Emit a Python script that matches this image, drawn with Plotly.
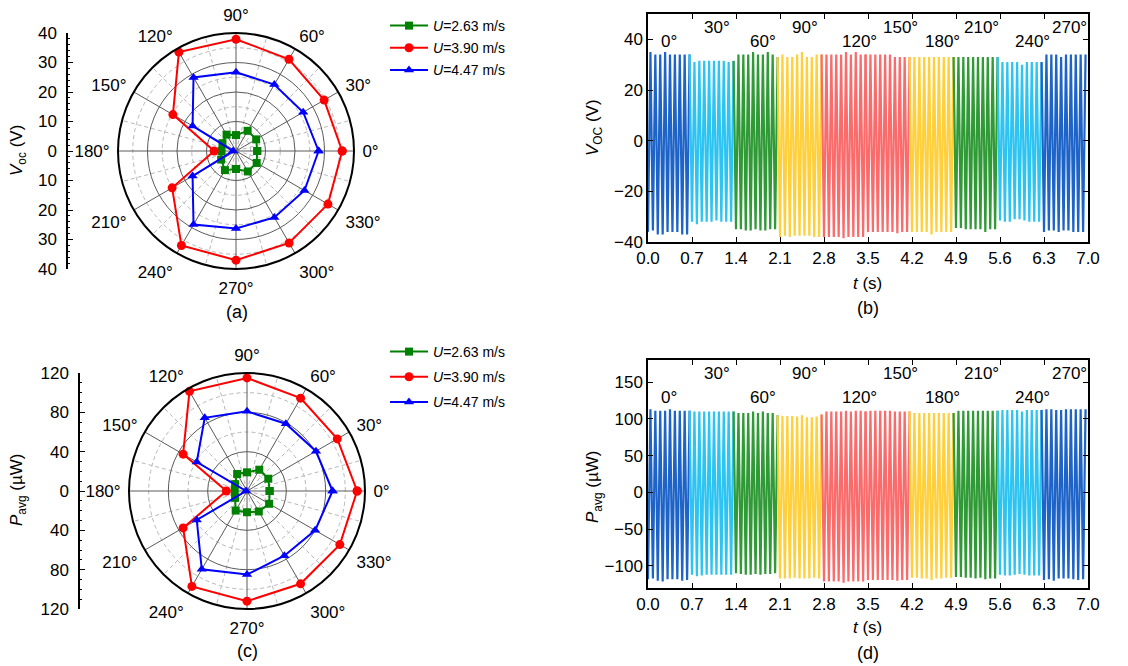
import plotly.graph_objects as go

W, H = 1128, 666
FONT = "Liberation Sans, Arial, sans-serif"
FS = 17

# ---------------- polar data ----------------
angles = [0, 30, 60, 90, 120, 150, 180, 210, 240, 270, 300, 330]
angle_ticks = [f"{a}°" for a in angles]

voc_263 = [7.2, 7.9, 7.9, 5.4, 6.4, 5.3, 4.9, 5.8, 7.5, 6.1, 8.0, 8.1]
voc_390 = [36, 34.5, 35.9, 37.9, 38.7, 24.7, 7.4, 25, 37, 37, 36, 36]
voc_447 = [28, 26.3, 26, 26.7, 28.8, 17, 1, 17, 28.8, 26.3, 26, 26.8]

pavg_263 = [23, 25, 25, 19, 20, 14, 12.5, 14, 23, 21.6, 24, 26]
pavg_390 = [112, 106, 109, 115, 117, 75, 21, 75, 112, 112, 109, 109]
pavg_447 = [87, 81, 79, 81, 86, 59, 1, 59, 92, 85, 76, 80]

series_names = ["<i>U</i>=2.63 m/s", "<i>U</i>=3.90 m/s", "<i>U</i>=4.47 m/s"]
series_colors = ["#008000", "#FF0000", "#0000FF"]
series_symbols = ["square", "circle", "triangle-up"]

# ---------------- time series data ----------------
seg_labels = ["0°", "30°", "60°", "90°", "120°", "150°", "180°", "210°", "240°", "270°"]
seg_colors = ["#1E64C8", "#2EC4F2", "#2F9A36", "#FFD03C", "#FA6B6B",
              "#FA6B6B", "#FFD03C", "#2F9A36", "#2EC4F2", "#1E64C8"]
tick_t = [0.0, 0.7, 1.4, 2.1, 2.8, 3.5, 4.2, 4.9, 5.6, 6.3, 7.0]
tick_t_text = ["0.0", "0.7", "1.4", "2.1", "2.8", "3.5", "4.2", "4.9", "5.6", "6.3", "7.0"]

v_peaks = [
    [35, 34, 34, 35, 34, 34, 34, 34, 34],
    [31, 31.5, 31.5, 31.5, 31.5, 31.5, 31.5, 31, 31.5],
    [34, 34, 34, 35, 34, 34, 35, 34, 33],
    [34, 33, 33, 34, 35, 33, 33, 34, 34],
    [34, 34, 34, 34, 35, 34, 35, 34, 34],
    [34, 34, 34, 34, 34, 33, 33, 33, 33],
    [33, 33, 33, 33, 33, 33, 33, 33, 33],
    [33, 33, 33, 33, 33, 33, 33, 33, 33],
    [31, 31, 31, 31, 30, 31, 31, 31, 31],
    [34, 34, 34, 33, 34, 34, 34, 34, 34],
]
v_troughs = [
    [-36, -35.5, -37, -37, -36, -36, -36, -37, -37],
    [-32, -33, -32, -32, -32, -31.5, -32, -32, -32],
    [-35, -35, -35.5, -35.5, -35, -35.5, -35.5, -35, -35],
    [-38, -37.5, -38, -37.5, -37.5, -37.5, -37.5, -38, -38],
    [-38, -38, -38, -38, -38.5, -38, -38, -38, -38],
    [-36, -36, -36, -36, -36, -36, -36.5, -36, -36],
    [-36, -36, -36, -36, -37, -36, -36, -36, -36],
    [-34.5, -34.5, -35, -35, -35, -35, -36, -35, -35],
    [-31.5, -32, -32, -31, -31, -31.5, -32, -32, -32],
    [-36, -35.5, -35.5, -36, -35.5, -35.5, -36, -36, -36],
]
p_peaks = [
    [113, 111, 111, 111, 113, 111, 111, 111, 111],
    [110, 110, 110, 110, 110, 110, 110, 110, 110],
    [108, 108, 108, 110, 108, 110, 108, 108, 105],
    [104, 104, 104, 103, 105, 102, 102, 103, 106],
    [110, 110, 110, 110, 111, 110, 111, 111, 110],
    [111, 111, 111, 111, 111, 110, 110, 110, 110],
    [108, 108, 108, 108, 108, 108, 108, 108, 108],
    [111, 111, 111, 111, 111, 111, 111, 111, 111],
    [112, 112, 112, 112, 110, 112, 112, 112, 112],
    [113, 113, 112, 112, 113, 113, 113, 113, 113],
]
p_troughs = [
    [-118, -117, -120, -121, -118, -118, -118, -120, -119],
    [-112, -114, -113, -112, -112, -112, -112, -112, -112],
    [-110, -111, -112, -112, -111, -112, -111, -111, -110],
    [-117, -117, -117, -116, -117, -117, -117, -116, -117],
    [-121, -121, -121, -121, -123, -121, -121, -121, -121],
    [-119, -119, -119, -119, -119, -119, -120, -119, -119],
    [-116, -116, -117, -117, -119, -117, -117, -116, -116],
    [-115, -115, -116, -116, -117, -116, -118, -117, -117],
    [-112, -113, -113, -112, -111, -112, -113, -113, -113],
    [-119, -118, -120, -117, -117, -117, -118, -119, -118],
]
SEG_LEN = 0.7


def px(x):
    return x / W


def py(y):
    return 1 - y / H


fig = go.Figure()


# ---------------- polar panels ----------------
def add_polar(grid_id, main_id, data, legend_id):
    fig.add_trace(go.Scatterpolar(r=[0], theta=[0], mode="markers",
                                  marker=dict(opacity=0), hoverinfo="skip",
                                  showlegend=False, subplot=grid_id))
    for vals, name, col, sym in zip(data, series_names, series_colors, series_symbols):
        fig.add_trace(go.Scatterpolar(
            r=vals + vals[:1], theta=angles + angles[:1], mode="lines+markers",
            name=name, line=dict(color=col, width=2),
            marker=dict(color=col, symbol=sym, size=8 if sym == "square" else 9),
            subplot=main_id, legend=legend_id, legendgroup=name + legend_id))


add_polar("polar", "polar2", [voc_263, voc_390, voc_447], "legend")
add_polar("polar3", "polar4", [pavg_263, pavg_390, pavg_447], "legend2")


def polar_layout(dom_x, dom_y, rmax, solid_ticks, dashed_ticks):
    grid = dict(
        domain=dict(x=dom_x, y=dom_y), bgcolor="white",
        radialaxis=dict(range=[0, rmax], tickvals=dashed_ticks, showticklabels=False,
                        showline=False, ticks="", gridcolor="#B8B8B8", griddash="4px,3px",
                        gridwidth=1),
        angularaxis=dict(tickvals=[a + 15 for a in angles], showticklabels=False,
                         showline=False, ticks="", gridcolor="#B8B8B8", griddash="4px,3px",
                         gridwidth=1, direction="counterclockwise", rotation=0),
    )
    main = dict(
        domain=dict(x=dom_x, y=dom_y), bgcolor="rgba(0,0,0,0)",
        radialaxis=dict(range=[0, rmax], tickvals=solid_ticks, showticklabels=False,
                        showline=False, ticks="", gridcolor="#5A5A5A", gridwidth=1),
        angularaxis=dict(tickvals=angles, ticktext=angle_ticks, showline=True,
                         linecolor="black", linewidth=2, ticks="outside", ticklen=4,
                         tickcolor="rgba(0,0,0,0)",
                         gridcolor="#5A5A5A", gridwidth=1,
                         direction="counterclockwise", rotation=0,
                         tickfont=dict(size=FS, color="black", family=FONT)),
    )
    return grid, main


pa_x = [px(118), px(354)]
pa_y = [py(269), py(33)]
pc_x = [px(129), px(365)]
pc_y = [py(609), py(373)]
g1, m1 = polar_layout(pa_x, pa_y, 40, [10, 20, 30], [5, 15, 25, 35])
g3, m3 = polar_layout(pc_x, pc_y, 120, [40, 80], [20, 60, 100])


# ---------------- time series ----------------
def add_wave(peaks, troughs, xa, ya):
    prev = None
    for k in range(len(peaks)):
        ts, vs = [], []
        if prev is not None:
            ts.append(prev[0])
            vs.append(prev[1])
        n = 2 * len(peaks[k])
        for i in range(n):
            ts.append(SEG_LEN * k + SEG_LEN * i / n)
            vs.append(troughs[k][i // 2] if i % 2 == 0 else peaks[k][i // 2])
        prev = (ts[-1], vs[-1])
        fig.add_trace(go.Scatter(x=ts, y=vs, mode="lines",
                                 line=dict(color=seg_colors[k], width=2.2),
                                 showlegend=False, hoverinfo="skip",
                                 xaxis=xa, yaxis=ya))


add_wave(v_peaks, v_troughs, "x", "y")
add_wave(p_peaks, p_troughs, "x2", "y2")

# invisible anchors so the left scales of the polar charts are drawn
for xa, ya in (("x3", "y3"), ("x4", "y4")):
    fig.add_trace(go.Scatter(x=[0.5], y=[0], mode="markers", marker=dict(opacity=0),
                             showlegend=False, hoverinfo="skip", xaxis=xa, yaxis=ya))

axis_common = dict(showline=True, linecolor="black", linewidth=1.5, mirror="ticks",
                   ticks="inside", ticklen=5, tickcolor="black", showgrid=False,
                   zeroline=False, automargin=False,
                   tickfont=dict(size=FS, color="black", family=FONT))

ts_x = [px(648), px(1088)]
fig.update_layout(
    xaxis=dict(domain=ts_x, anchor="y", range=[0, 7], tickvals=tick_t,
               ticktext=tick_t_text, **axis_common),
    yaxis=dict(domain=[py(242), py(14)], anchor="x", range=[-40, 50],
               tickvals=[-40, -20, 0, 20, 40], **axis_common),
    xaxis2=dict(domain=ts_x, anchor="y2", range=[0, 7], tickvals=tick_t,
                ticktext=tick_t_text, **axis_common),
    yaxis2=dict(domain=[py(588), py(360)], anchor="x2", range=[-130, 180],
                tickvals=[-100, -50, 0, 50, 100, 150], **axis_common),
)

left_common = dict(showline=True, linecolor="black", linewidth=1.5, ticks="inside",
                   ticklen=5, tickcolor="black", showgrid=False, zeroline=False,
                   automargin=False, ticklabelstandoff=6,
                   tickfont=dict(size=FS, color="black", family=FONT))
fig.update_layout(
    xaxis3=dict(domain=[px(68), px(72)], anchor="y3", visible=False, range=[0, 1],
                automargin=False),
    yaxis3=dict(domain=pa_y, anchor="x3", range=[-40, 40],
                tickvals=[-40, -30, -20, -10, 0, 10, 20, 30, 40],
                ticktext=["40", "30", "20", "10", "0", "10", "20", "30", "40"],
                minor=dict(ticks="inside", ticklen=2, dtick=2, tickcolor="black"),
                **left_common),
    xaxis4=dict(domain=[px(80), px(84)], anchor="y4", visible=False, range=[0, 1],
                automargin=False),
    yaxis4=dict(domain=pc_y, anchor="x4", range=[-120, 120],
                tickvals=[-120, -80, -40, 0, 40, 80, 120],
                ticktext=["120", "80", "40", "0", "40", "80", "120"],
                minor=dict(ticks="inside", ticklen=2, dtick=10, tickcolor="black"),
                **left_common),
)

# ---------------- annotations ----------------
ann = []


def text(x, y, s, size=FS, angle=0):
    ann.append(dict(x=px(x), y=py(y), xref="paper", yref="paper", text=s,
                    showarrow=False, xanchor="center", yanchor="middle",
                    textangle=angle, font=dict(size=size, color="black", family=FONT)))


text(18, 151, "<i>V</i><sub>oc</sub> (V)", FS, -90)
text(18, 490, "<i>P</i><sub>avg</sub> (µW)", FS, -90)
text(594, 128, "<i>V</i><sub>OC</sub> (V)", FS, -90)
text(594, 487, "<i>P</i><sub>avg</sub> (µW)", FS, -90)
text(868, 283, "<i>t</i> (s)", FS)
text(868, 627, "<i>t</i> (s)", FS)
text(237, 312, "(a)", 18)
text(868, 308, "(b)", 18)
text(247, 651, "(c)", 18)
text(868, 653, "(d)", 18)

lab_t = [0.33, 1.10, 1.83, 2.50, 3.36, 4.01, 4.68, 5.31, 6.11, 6.70]
for k, lab in enumerate(seg_labels):
    hi = k % 2 == 1
    ann.append(dict(x=lab_t[k], y=44.5 if hi else 39, xref="x", yref="y", text=lab,
                    showarrow=False, font=dict(size=FS, color="black", family=FONT)))
    ann.append(dict(x=lab_t[k], y=161 if hi else 129, xref="x2", yref="y2", text=lab,
                    showarrow=False, font=dict(size=FS, color="black", family=FONT)))

leg_common = dict(font=dict(size=14, color="black", family=FONT), bgcolor="rgba(0,0,0,0)",
                  xanchor="left", yanchor="top", itemwidth=38)

fig.update_layout(
    width=W, height=H, margin=dict(l=0, r=0, t=0, b=0, autoexpand=False),
    paper_bgcolor="white", plot_bgcolor="white",
    font=dict(family=FONT, color="black"),
    polar=g1, polar2=m1, polar3=g3, polar4=m3,
    annotations=ann,
    legend=dict(x=px(385), y=py(10), tracegroupgap=1, **leg_common),
    legend2=dict(x=px(385), y=py(336), tracegroupgap=4, **leg_common),
)

fig.write_html("out.html", config={"displayModeBar": False},
               post_script="document.body.style.margin='0px';"
                           "document.body.style.overflow='hidden';")
